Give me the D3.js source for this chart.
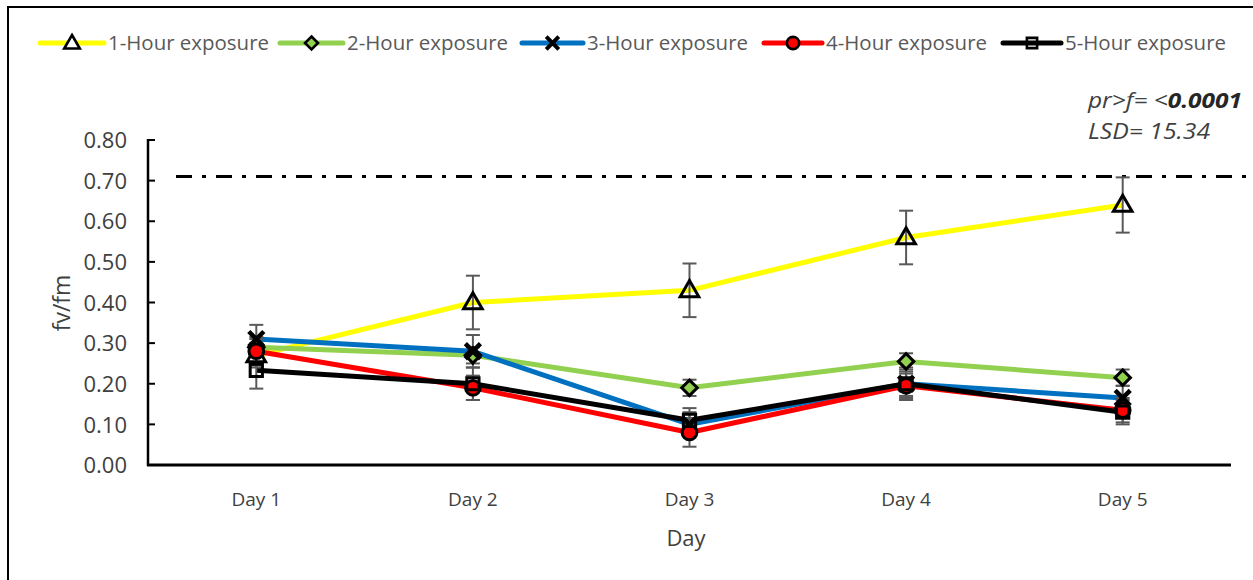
<!DOCTYPE html>
<html>
<head>
<meta charset="utf-8">
<script src="https://cdn.jsdelivr.net/npm/d3@7"></script>
<style>
  html, body { margin: 0; padding: 0; background: #fff; }
  svg { display: block; }
  text { font-family: "Open Sans", "Noto Sans", sans-serif; }
</style>
</head>
<body>
<svg id="chart" width="1253" height="580"></svg>
<script>
// Days on the x axis
const days = ["Day 1", "Day 2", "Day 3", "Day 4", "Day 5"];

// Mean fv/fm per exposure duration
const oneHour   = [0.27, 0.40, 0.43, 0.56, 0.64];
const twoHour   = [0.29, 0.27, 0.19, 0.255, 0.215];
const threeHour = [0.31, 0.28, 0.10, 0.20, 0.165];
const fourHour  = [0.28, 0.19, 0.08, 0.195, 0.135];
const fiveHour  = [0.233, 0.20, 0.11, 0.20, 0.13];

// Standard errors
const oneHourErr   = [0.03, 0.066, 0.066, 0.066, 0.068];
const twoHourErr   = [0.02, 0.02, 0.02, 0.02, 0.02];
const threeHourErr = [0.035, 0.04, 0.03, 0.03, 0.03];
const fourHourErr  = [0.035, 0.03, 0.035, 0.03, 0.03];
const fiveHourErr  = [0.045, 0.04, 0.03, 0.04, 0.03];

const seriesNames = ["1-Hour exposure", "2-Hour exposure", "3-Hour exposure", "4-Hour exposure", "5-Hour exposure"];
const yTicks = [0, 0.1, 0.2, 0.3, 0.4, 0.5, 0.6, 0.7, 0.8];
const referenceLevel = 0.71;

const series = [
  { name: seriesNames[0], values: oneHour,   err: oneHourErr,   color: "#FFFF00", symbol: "triangle", fill: "none" },
  { name: seriesNames[1], values: twoHour,   err: twoHourErr,   color: "#92D050", symbol: "diamond",  fill: "#92D050" },
  { name: seriesNames[2], values: threeHour, err: threeHourErr, color: "#0070C0", symbol: "x",        fill: "none" },
  { name: seriesNames[3], values: fourHour,  err: fourHourErr,  color: "#FF0000", symbol: "circle",   fill: "#FF0000" },
  { name: seriesNames[4], values: fiveHour,  err: fiveHourErr,  color: "#000000", symbol: "square",   fill: "none" }
];

const svg = d3.select("#chart");

// outer frame edges (top and left)
svg.append("path")
  .attr("d", "M8,580 L8,7 L1253,7")
  .attr("fill", "none").attr("stroke", "#000").attr("stroke-width", 2);

const plot = { left: 148, right: 1231, top: 140, bottom: 465 };

const x = d3.scaleBand().domain(days).range([plot.left, plot.right]);
const y = d3.scaleLinear().domain([0, 0.8]).range([plot.bottom, plot.top]);
const cx = d => x(d) + x.bandwidth() / 2;

// y axis
const yAxis = svg.append("g")
  .attr("transform", `translate(${plot.left},0)`)
  .call(d3.axisLeft(y).tickValues(yTicks).tickFormat(d3.format(".2f")).tickSize(0).tickPadding(0));
yAxis.select(".domain").remove();
yAxis.attr("font-size", null).attr("font-family", null);
yAxis.selectAll("text")
  .attr("x", -21).attr("dy", "0.35em")
  .attr("font-size", 22).attr("fill", "#404040");
// tick marks drawn on the inside of the axis line
svg.append("g").selectAll("line").data(yTicks).join("line")
  .attr("x1", plot.left).attr("x2", plot.left + 7)
  .attr("y1", d => y(d)).attr("y2", d => y(d))
  .attr("stroke", "#000").attr("stroke-width", 2);
svg.append("line")
  .attr("x1", plot.left).attr("x2", plot.left)
  .attr("y1", plot.top - 1).attr("y2", plot.bottom + 1)
  .attr("stroke", "#000").attr("stroke-width", 2.5);

// x axis
const xAxis = svg.append("g")
  .attr("transform", `translate(0,${plot.bottom})`)
  .call(d3.axisBottom(x).tickSize(0).tickPadding(0));
xAxis.select(".domain").remove();
xAxis.attr("font-size", null).attr("font-family", null);
xAxis.selectAll("text")
  .attr("y", 34).attr("dy", "0.35em")
  .attr("font-size", 19).attr("fill", "#404040");
svg.append("line")
  .attr("x1", plot.left - 1).attr("x2", plot.right)
  .attr("y1", plot.bottom).attr("y2", plot.bottom)
  .attr("stroke", "#000").attr("stroke-width", 3);

// axis titles
svg.append("text")
  .attr("x", 686).attr("y", 538).attr("dy", "0.35em")
  .attr("text-anchor", "middle").attr("font-size", 22).attr("fill", "#404040")
  .text("Day");
svg.append("text")
  .attr("transform", `translate(62,${303}) rotate(-90)`)
  .attr("dy", "0.35em").attr("text-anchor", "middle")
  .attr("font-size", 23).attr("fill", "#404040")
  .text("fv/fm");

// dash-dot reference line
svg.append("line")
  .attr("x1", plot.left + 28).attr("x2", 1253)
  .attr("y1", y(referenceLevel)).attr("y2", y(referenceLevel))
  .attr("stroke", "#000").attr("stroke-width", 3)
  .attr("stroke-dasharray", "16,10,4,10");

// statistics note
const note = svg.append("g").attr("fill", "#404040").attr("font-size", 22).attr("font-style", "italic");
const n1 = note.append("text").attr("x", 1088).attr("y", 100).attr("dy", "0.35em")
  .attr("textLength", 154).attr("lengthAdjust", "spacingAndGlyphs");
n1.append("tspan").text("pr>f= <");
n1.append("tspan").attr("font-weight", "bold").attr("fill", "#262626").text("0.0001");
note.append("text").attr("x", 1088).attr("y", 131).attr("dy", "0.35em")
  .attr("textLength", 122).attr("lengthAdjust", "spacingAndGlyphs")
  .text("LSD= 15.34");

// marker shapes
const diamondShape = {
  draw(ctx, size) {
    const r = Math.sqrt(size / 2);
    ctx.moveTo(0, -r); ctx.lineTo(r, 0); ctx.lineTo(0, r); ctx.lineTo(-r, 0); ctx.closePath();
  }
};
const symbolTypes = {
  triangle: d3.symbolTriangle,
  diamond: diamondShape,
  x: d3.symbolX,
  circle: d3.symbolCircle,
  square: d3.symbolSquare
};
function markerPath(sym, scale = 1) {
  const sizes = { triangle: 150, diamond: 120, x: 150, circle: 170, square: 150 };
  return d3.symbol(symbolTypes[sym], sizes[sym] * scale)();
}

const line = d3.line().x((v, i) => cx(days[i])).y(v => y(v));

// lines
svg.append("g").selectAll("path").data(series).join("path")
  .attr("d", s => line(s.values))
  .attr("fill", "none").attr("stroke", s => s.color)
  .attr("stroke-width", 5).attr("stroke-linejoin", "round");

// error bars
const errG = svg.append("g").attr("stroke", "#595959").attr("stroke-width", 2);
series.forEach(s => {
  s.values.forEach((v, i) => {
    const px = cx(days[i]);
    const y0 = y(v - s.err[i]), y1 = y(v + s.err[i]);
    errG.append("line").attr("x1", px).attr("x2", px).attr("y1", y0).attr("y2", y1);
    errG.append("line").attr("x1", px - 7).attr("x2", px + 7).attr("y1", y0).attr("y2", y0);
    errG.append("line").attr("x1", px - 7).attr("x2", px + 7).attr("y1", y1).attr("y2", y1);
  });
});

// markers
series.forEach(s => {
  svg.append("g").selectAll("path").data(s.values).join("path")
    .attr("transform", (v, i) => `translate(${cx(days[i])},${y(v) + (s.symbol === "triangle" ? 1 : 0)})`)
    .attr("d", markerPath(s.symbol))
    .attr("fill", s.fill)
    .attr("stroke", "#000")
    .attr("stroke-width", s.symbol === "x" ? 4.5 : 3);
});

// legend
const legendItems = [
  { lineX: 40,  textX: 108 },
  { lineX: 280, textX: 347 },
  { lineX: 522, textX: 587 },
  { lineX: 764, textX: 826 },
  { lineX: 1003, textX: 1065 }
];
const legendY = 43;
const lg = svg.append("g");
series.forEach((s, i) => {
  const it = legendItems[i];
  lg.append("line")
    .attr("x1", it.lineX).attr("x2", it.textX - 4)
    .attr("y1", legendY).attr("y2", legendY)
    .attr("stroke", s.color).attr("stroke-width", 5).attr("stroke-linecap", "round");
  lg.append("path")
    .attr("transform", `translate(${(it.lineX + it.textX - 4) / 2},${legendY + (s.symbol === "triangle" ? 1 : 0)})`)
    .attr("d", markerPath(s.symbol, 0.7))
    .attr("fill", s.symbol === "triangle" ? "#fff" : s.fill)
    .attr("stroke", "#000")
    .attr("stroke-width", s.symbol === "x" ? 4 : 2.6);
  lg.append("text")
    .attr("x", it.textX).attr("y", legendY).attr("dy", "0.35em")
    .attr("font-size", 20).attr("fill", "#595959")
    .attr("textLength", 161).attr("lengthAdjust", "spacingAndGlyphs")
    .text(s.name);
});
</script>
</body>
</html>
